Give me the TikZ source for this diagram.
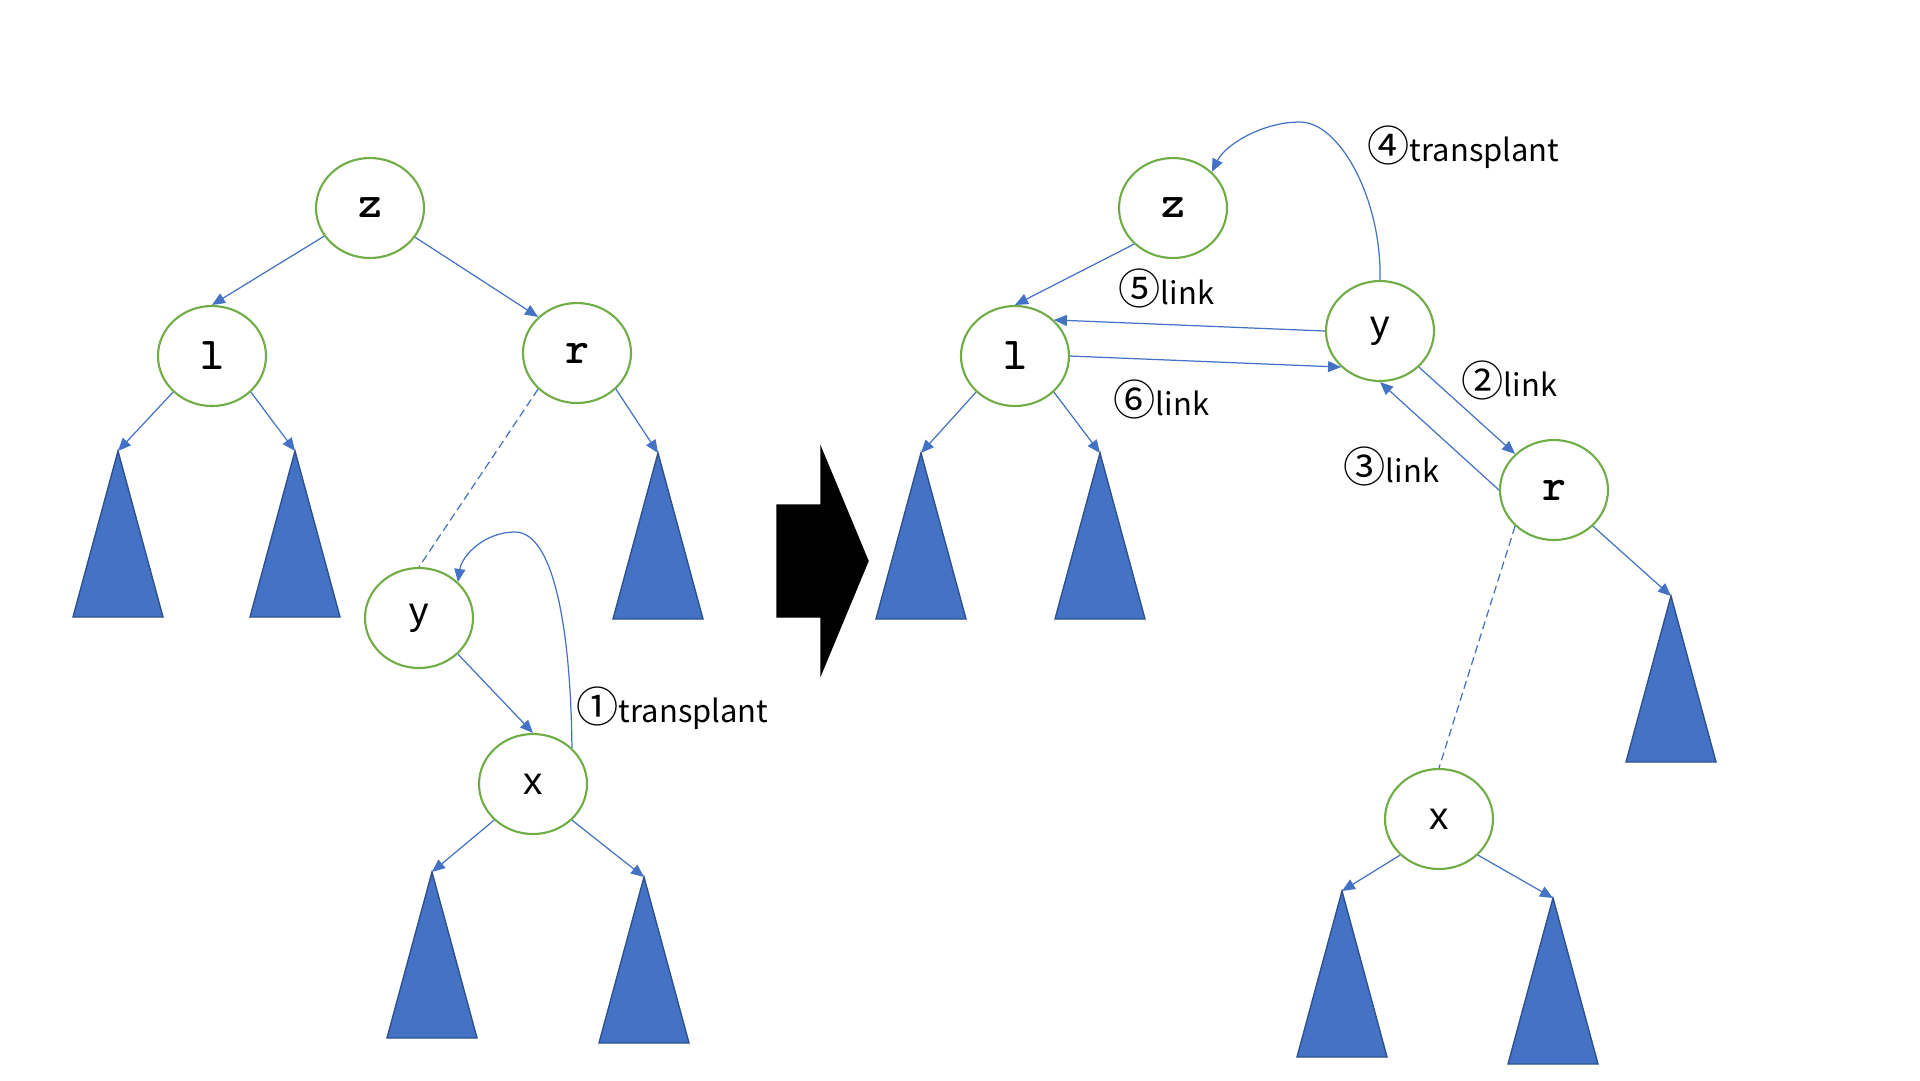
\documentclass[tikz,border=0pt]{standalone}
\usepackage{fontspec}
\setmainfont{Liberation Sans}
\newfontfamily\jpfont{Noto Sans CJK JP}
\usetikzlibrary{arrows.meta,shapes.geometric}
\definecolor{linkblue}{HTML}{4472C4}
\definecolor{nodegreen}{HTML}{70AD47}
\definecolor{treeedge}{HTML}{2F528F}
\newcommand{\opnum}[1]{{\fontsize{12}{12}\selectfont #1}}

\begin{document}
\begin{tikzpicture}[x=0.1mm,y=-0.1mm,
  vertex/.style={draw=nodegreen,line width=0.6pt,fill=white,ellipse,minimum width=10.8mm,minimum height=10mm,inner sep=0pt,font=\fontsize{11}{11}\selectfont},
  key/.style={vertex,font=\ttfamily\bfseries\fontsize{13}{13}\selectfont},
  link/.style={draw=linkblue,line width=0.35pt,-{Triangle[length=1.3mm,width=1.1mm]}},
  parent/.style={draw=linkblue,line width=0.35pt,dash pattern=on 0.8mm off 0.45mm},
  subtree/.style={fill=linkblue,draw=treeedge,line width=0.4pt},
  oplabel/.style={font=\jpfont\fontsize{8.8}{8.8}\selectfont,anchor=west,inner sep=0pt},
]
\useasboundingbox (0,0) rectangle (1920,1080);

\foreach \n/\p in {tLa/{118,451},tLb/{295,451},tLc/{658,453},tLd/{432,872},tLe/{644,877},
                   tRa/{921,453},tRb/{1100,453},tRc/{1671,596},tRd/{1342,891},tRe/{1553,898}}{
  \coordinate (\n) at (\p);
  \draw[subtree] (\n) -- ++(-45,166) -- ++(90,0) -- cycle;
}

\node[key] (zL) at (370,208) {z};
\node[key] (lL) at (212,356) {l};
\node[key] (rL) at (577,353) {r};
\node[vertex] (yL) at (419,618) {y};
\node[vertex] (xL) at (533,784) {x};

\draw[link] (zL) -- (lL.north);
\draw[link] (zL) -- (rL.north west);
\draw[link] (lL.south west) -- (tLa);
\draw[link] (lL.south east) -- (tLb);
\draw[link] (rL.south east) -- (tLc);
\draw[parent] (rL.south west) -- (yL.north);
\draw[link] (yL.south east) -- (xL.north);
\draw[link] (xL.south west) -- (tLd);
\draw[link] (xL.south east) -- (tLe);
\draw[link] (xL.north east) .. controls (571,640) and (556,532) .. (515,532) .. controls (485,532) and (462,555) .. (yL.north east);
\node[oplabel] (op1) at (576,708) {\opnum{①}transplant};

\draw[fill=black] (777,505) -- (821,505) -- (821,448) -- (868,561) -- (821,674) -- (821,617) -- (777,617) -- cycle;

\node[key] (zR) at (1173,208) {z};
\node[key] (lR) at (1015,356) {l};
\node[vertex] (yR) at (1380,331) {y};
\node[key] (rR) at (1554,490) {r};
\node[vertex] (xR) at (1439,819) {x};

\draw[link] (zR.south west) -- (lR.north);
\draw[link] (yR.west) -- (lR.north east);
\draw[link] (lR.east) -- (yR.south west);
\draw[link] (yR.south east) -- (rR.north west);
\draw[link] (rR.west) -- (yR.south);
\draw[link] (lR.south west) -- (tRa);
\draw[link] (lR.south east) -- (tRb);
\draw[link] (rR.south east) -- (tRc);
\draw[parent] (rR.south west) -- (xR.north);
\draw[link] (xR.south west) -- (tRd);
\draw[link] (xR.south east) -- (tRe);
\draw[link] (yR.north) .. controls (1382,200) and (1340,122) .. (1300,122) .. controls (1262,122) and (1225,145) .. (zR.north east);
\node[oplabel] (op4) at (1367,147) {\opnum{④}transplant};
\node[oplabel] (op5) at (1118,288) {\opnum{⑤}link};
\node[oplabel] (op6) at (1113,399) {\opnum{⑥}link};
\node[oplabel] (op2) at (1461,380) {\opnum{②}link};
\node[oplabel] (op3) at (1343,466) {\opnum{③}link};
\end{tikzpicture}
\end{document}
